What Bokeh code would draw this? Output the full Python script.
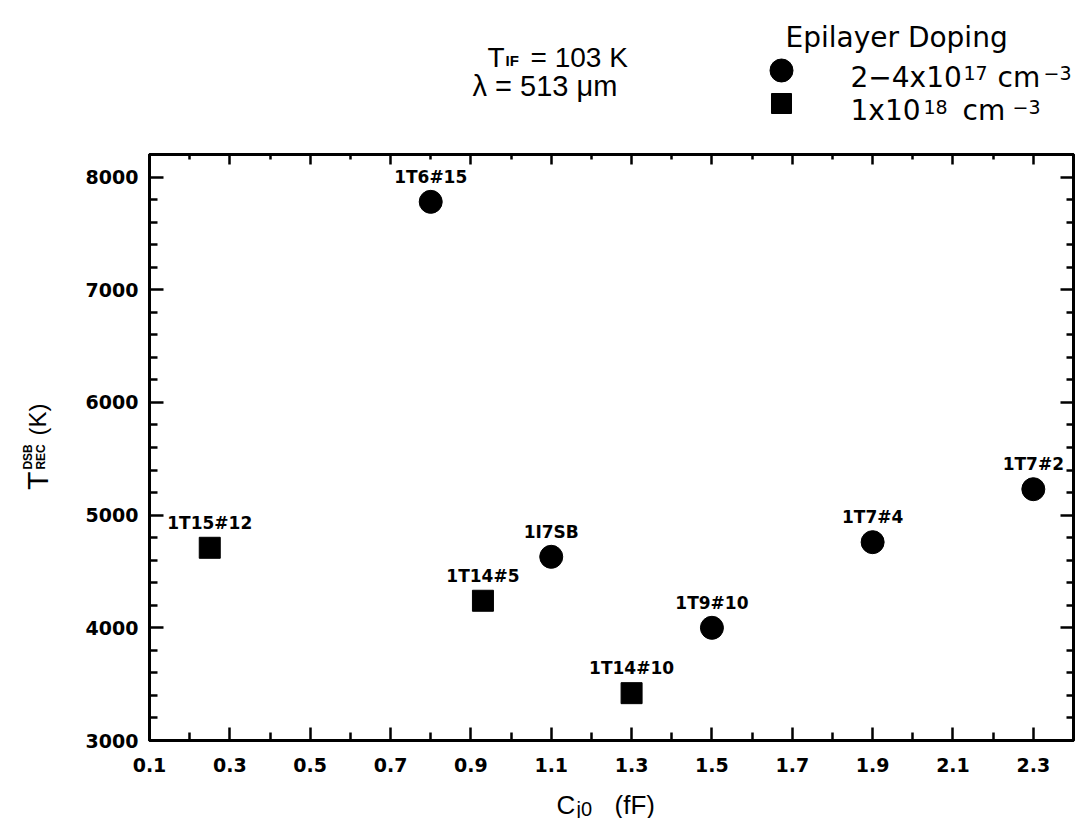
import numpy as np
from bokeh.plotting import figure
from bokeh.layouts import column, row
from bokeh.models import ColumnDataSource, LabelSet, Label, LinearAxis, FixedTicker, Range1d
from bokeh.core.properties import value
from bokeh.embed import file_html
from bokeh.resources import INLINE

# ---------------- data ----------------
circle_names = ["1T6#15", "1I7SB", "1T9#10", "1T7#4", "1T7#2"]
circle_cj0 = [0.80, 1.10, 1.50, 1.90, 2.30]
circle_trec = [7780, 4630, 4000, 4760, 5230]

square_names = ["1T15#12", "1T14#5", "1T14#10"]
square_cj0 = [0.25, 0.93, 1.30]
square_trec = [4710, 4240, 3420]

x_major_ticks = [0.1, 0.3, 0.5, 0.7, 0.9, 1.1, 1.3, 1.5, 1.7, 1.9, 2.1, 2.3]
x_minor_ticks = [0.2, 0.4, 0.6, 0.8, 1.0, 1.2, 1.4, 1.6, 1.8, 2.0, 2.2]
y_major_ticks = [3000, 4000, 5000, 6000, 7000, 8000]
y_minor_ticks = [v for v in range(3200, 8201, 200) if v % 1000 != 0]

legend_title = "Epilayer Doping"
legend_row1 = ["2\u22124x10", "17", "cm", "\u22123"]
legend_row2 = ["1x10", "18", "cm", "\u22123"]

XR = (0.1, 2.4)
YR = (3000, 8200)

# ---------------- layout (canvas pixels) ----------------
TOT_W = 1090
TOP_H = 144
LEFT_W = 68
MAIN_W, MAIN_H = TOT_W - LEFT_W, 636
BOT_H = 38


def aux_fig(w, h):
    f = figure(width=w, height=h, x_range=Range1d(0, w), y_range=Range1d(0, h),
               output_backend="svg", toolbar_location=None,
               x_axis_location=None, y_axis_location=None,
               min_border=0, min_border_left=0, min_border_right=0,
               min_border_top=0, min_border_bottom=0)
    f.grid.visible = False
    f.outline_line_color = None
    f.background_fill_color = "white"
    f.border_fill_color = "white"
    return f


def put(fig, org, txt, px, py, size, font="Liberation Sans", style="normal", angle=0.0):
    # org = (page x of fig left, page y of fig bottom)
    fig.add_layout(Label(x=px - org[0], y=org[1] - py, text=txt, text_font=font,
                         text_font_size=f"{size}px", text_font_style=style,
                         text_align="left", text_baseline="alphabetic",
                         angle=angle, text_color="black"))


# ---------------- main plot ----------------
p = figure(width=MAIN_W, height=MAIN_H, x_range=Range1d(*XR), y_range=Range1d(*YR),
           output_backend="svg", toolbar_location=None,
           min_border_left=149 - LEFT_W, min_border_right=TOT_W - 1073,
           min_border_top=154 - TOP_H, min_border_bottom=TOP_H + MAIN_H - 740)
p.grid.visible = False
p.outline_line_color = "black"
p.outline_line_width = 3
p.background_fill_color = "white"
p.border_fill_color = "white"


def style_axis(ax, major_in, minor_in, line=True):
    ax.axis_line_width = 3 if line else 0
    ax.axis_line_color = "black" if line else None
    ax.major_tick_in = major_in
    ax.major_tick_out = 0
    ax.minor_tick_in = minor_in
    ax.minor_tick_out = 0
    ax.major_tick_line_width = 2.5
    ax.minor_tick_line_width = 2.5
    ax.major_tick_line_color = "black"
    ax.minor_tick_line_color = "black"
    ax.major_label_text_font = "DejaVu Sans"
    ax.major_label_text_font_style = "bold"
    ax.major_label_text_font_size = "19px"
    ax.major_label_text_color = "black"


xa = p.xaxis[0]
xa.ticker = FixedTicker(ticks=x_major_ticks, minor_ticks=x_minor_ticks)
style_axis(xa, 13, 8)
xa.major_label_standoff = 17
ya = p.yaxis[0]
ya.ticker = FixedTicker(ticks=y_major_ticks, minor_ticks=y_minor_ticks)
style_axis(ya, 14, 8)
ya.major_label_standoff = 11

# top / right frame ticks: label-free axes (minor ticks only)
for ticks, length, line in ((x_major_ticks, 10, True), (x_minor_ticks, 5, False)):
    ax = LinearAxis(ticker=FixedTicker(ticks=[], minor_ticks=ticks), major_label_standoff=0)
    style_axis(ax, 0, length, line)
    p.add_layout(ax, "above")
for ticks, length, line in ((y_major_ticks, 13, True), (y_minor_ticks, 7, False)):
    ax = LinearAxis(ticker=FixedTicker(ticks=[], minor_ticks=ticks), major_label_standoff=0)
    style_axis(ax, 0, length, line)
    p.add_layout(ax, "right")

cs = ColumnDataSource(dict(x=circle_cj0, y=circle_trec, name=circle_names))
ss = ColumnDataSource(dict(x=square_cj0, y=square_trec, name=square_names))
p.scatter("x", "y", source=cs, marker="circle", size=23, color="black")
p.scatter("x", "y", source=ss, marker="square", size=21, color="black")
for src in (cs, ss):
    p.add_layout(LabelSet(x="x", y="y", text="name", source=src, y_offset=25,
                          text_align="center", text_baseline="middle",
                          text_font=value("DejaVu Sans"), text_font_style="bold",
                          text_font_size="17px", text_color="black"))

# ---------------- top strip: conditions + legend ----------------
top = aux_fig(TOT_W, TOP_H)
TO = (0, TOP_H)
put(top, TO, "T", 487, 57, 28)
put(top, TO, "IF", 505, 60, 15, style="bold")
put(top, TO, "= 103 K", 530, 57, 28)
put(top, TO, "\u03bb = 513 \u03bcm", 472, 85, 29)

put(top, TO, legend_title, 785, 37, 28, font="DejaVu Sans")
put(top, TO, legend_row1[0], 850, 77, 28, font="DejaVu Sans")
put(top, TO, legend_row1[1], 963, 72, 19, font="DejaVu Sans")
put(top, TO, legend_row1[2], 997, 77, 28, font="DejaVu Sans")
put(top, TO, legend_row1[3], 1043, 72, 19, font="DejaVu Sans")
put(top, TO, legend_row2[0], 850, 110, 28, font="DejaVu Sans")
put(top, TO, legend_row2[1], 923, 106, 19, font="DejaVu Sans")
put(top, TO, legend_row2[2], 962, 110, 28, font="DejaVu Sans")
put(top, TO, legend_row2[3], 1012, 106, 19, font="DejaVu Sans")
top.scatter([781 - TO[0]], [TO[1] - 70], marker="circle", size=23, color="black")
top.scatter([781 - TO[0]], [TO[1] - 103], marker="square", size=20, color="black")

# ---------------- left strip: y title ----------------
left = aux_fig(LEFT_W, MAIN_H)
LO = (0, TOP_H + MAIN_H)
ang = np.pi / 2
put(left, LO, "T", 37, 508, 30, angle=ang)
put(left, LO, "DSB", 27, 486, 12, style="bold", angle=ang)
put(left, LO, "REC", 40, 486, 12, style="bold", angle=ang)
put(left, LO, "(K)", 37, 449, 24, angle=ang)

# ---------------- bottom strip: x title ----------------
bot = aux_fig(TOT_W, BOT_H)
BO = (0, TOP_H + MAIN_H + BOT_H)
put(bot, BO, "C", 556, 804, 26)
put(bot, BO, "j0", 576, 808, 20)
put(bot, BO, "(fF)", 614, 804, 26)

layout = column(top, row(left, p, spacing=0), bot, spacing=0)
open("out.html", "w").write(file_html(layout, INLINE))
